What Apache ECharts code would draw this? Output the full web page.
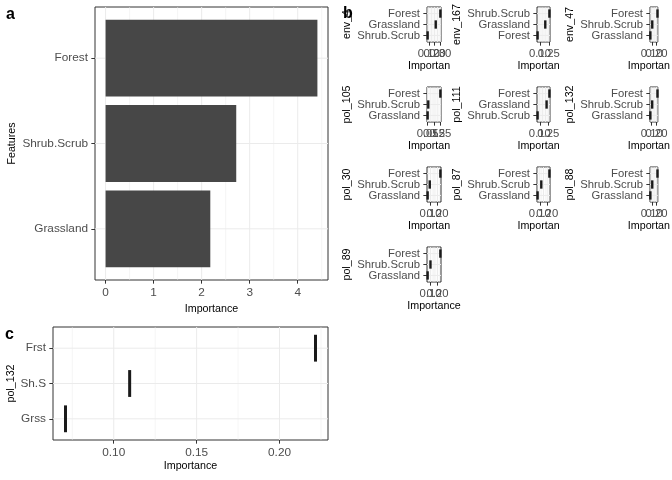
<!DOCTYPE html>
<html><head><meta charset="utf-8">
<script src="https://cdn.jsdelivr.net/npm/echarts@6/dist/echarts.min.js"></script>
<style>html,body{margin:0;padding:0;background:#fff}#c{width:672px;height:480px}</style>
</head><body><div id="c"></div>
<script>
// ---------- DATA ----------
// panel a (categories listed bottom to top)
const catsA = ['Grassland', 'Shrub.Scrub', 'Forest'];
const valsA = [2.18, 2.72, 4.41];
const ticksA = [0, 1, 2, 3, 4];

// panel b (one entry per small panel; categories bottom to top)
const bNames = ['env_4', 'env_167', 'env_47', 'pol_105', 'pol_111', 'pol_132', 'pol_30', 'pol_87', 'pol_88', 'pol_89'];
const bCats = [
  ['Shrub.Scrub', 'Grassland', 'Forest'],
  ['Forest', 'Grassland', 'Shrub.Scrub'],
  ['Grassland', 'Shrub.Scrub', 'Forest'],
  ['Grassland', 'Shrub.Scrub', 'Forest'],
  ['Shrub.Scrub', 'Grassland', 'Forest'],
  ['Grassland', 'Shrub.Scrub', 'Forest'],
  ['Grassland', 'Shrub.Scrub', 'Forest'],
  ['Grassland', 'Shrub.Scrub', 'Forest'],
  ['Grassland', 'Shrub.Scrub', 'Forest'],
  ['Grassland', 'Shrub.Scrub', 'Forest']
];
const bVals = [
  [0.08, 0.22, 0.30],
  [0.06, 0.19, 0.26],
  [0.07, 0.11, 0.22],
  [0.05, 0.06, 0.25],
  [0.06, 0.22, 0.27],
  [0.0709, 0.1096, 0.2217],
  [0.06, 0.09, 0.24],
  [0.07, 0.12, 0.23],
  [0.07, 0.11, 0.22],
  [0.06, 0.10, 0.24]
];
const bTicks = [
  [0.10, 0.15, 0.20, 0.25, 0.30],
  [0.10, 0.15, 0.20, 0.25],
  [0.10, 0.15, 0.20],
  [0.05, 0.10, 0.15, 0.20, 0.25],
  [0.10, 0.15, 0.20, 0.25],
  [0.10, 0.15, 0.20],
  [0.10, 0.15, 0.20],
  [0.10, 0.15, 0.20],
  [0.10, 0.15, 0.20],
  [0.10, 0.15, 0.20]
];

// panel c
const catsC = ['Grss', 'Sh.S', 'Frst'];
const valsC = [0.0709, 0.1096, 0.2217];
const ticksC = [0.10, 0.15, 0.20];

// ---------- LAYOUT / STYLE ----------
const FONT = '"Liberation Sans", Arial, Helvetica, sans-serif';
const TICK_COL = '#4D4D4D';
const BORDER = '#333333';
const GRIDCOL = '#EBEBEB';

const grids = [], xAxes = [], yAxes = [], series = [];

function addPanel(cfg) {
  const k = grids.length;
  grids.push({left: cfg.left, top: cfg.top, width: cfg.width, height: cfg.height,
    show: true, borderColor: BORDER, borderWidth: 1, backgroundColor: '#ffffff', containLabel: false});
  const vals = cfg.vals;
  let lo = Math.min(...vals), hi = Math.max(...vals);
  if (cfg.bars) lo = Math.min(0, lo);
  const pad = (hi - lo) * 0.05;
  const xmin = lo - pad, xmax = hi + pad;
  const ticks = cfg.ticks;
  const step = ticks[1] - ticks[0];
  const minor = ticks.map(t => t - step / 2).concat([ticks[ticks.length - 1] + step / 2])
    .filter(v => v > xmin && v < xmax);
  const xa = {gridIndex: k, type: 'value', min: xmin, max: xmax,
    axisLine: {show: false, onZero: false},
    axisTick: {show: true, customValues: ticks, length: 3.67, lineStyle: {color: BORDER, width: 1}},
    axisLabel: {customValues: ticks, formatter: v => Number(v).toFixed(cfg.dec), color: TICK_COL,
      fontSize: cfg.tickFont, fontFamily: FONT, margin: 6.5, hideOverlap: false,
      showMinLabel: true, showMaxLabel: true},
    splitLine: {show: false}, minorSplitLine: {show: false},
    name: 'Importance', nameLocation: 'middle', nameGap: cfg.xGap,
    nameTextStyle: {color: '#000', fontSize: cfg.titleFont, fontFamily: FONT,
      padding: cfg.truncate ? [0, 10, 0, 0] : 0}
  };
  if (cfg.truncate) xa.nameTruncate = {maxWidth: 44, ellipsis: ''};
  xAxes.push(xa);
  yAxes.push({gridIndex: k, type: 'value', min: 0.4, max: 3.6,
    axisLine: {show: false, onZero: false},
    axisTick: {show: true, customValues: [1, 2, 3], length: 3.67, lineStyle: {color: BORDER, width: 1}},
    axisLabel: {customValues: [1, 2, 3], formatter: v => cfg.cats[Math.round(v) - 1], color: TICK_COL,
      fontSize: cfg.tickFont, fontFamily: FONT, margin: 7, hideOverlap: false,
      showMinLabel: true, showMaxLabel: true},
    splitLine: {show: false},
    name: cfg.yName, nameLocation: 'middle', nameGap: cfg.yGap,
    nameTextStyle: {color: '#000', fontSize: cfg.titleFont, fontFamily: FONT}
  });
  // vertical grid lines (major + minor)
  const vdata = ticks.filter(t => t >= xmin && t <= xmax).map(t => [t, 2, 1]).concat(minor.map(t => [t, 2, 0.5]));
  series.push({type: 'custom', xAxisIndex: k, yAxisIndex: k, z: 1, silent: true, data: vdata,
    encode: {x: 0, y: 1},
    renderItem: (p, api) => {
      const x = api.coord([api.value(0), 2])[0];
      const cs = p.coordSys;
      return {type: 'line', shape: {x1: x, y1: cs.y, x2: x, y2: cs.y + cs.height},
        style: {stroke: GRIDCOL, lineWidth: api.value(2)}};
    }});
  // horizontal grid lines at categories
  series.push({type: 'custom', xAxisIndex: k, yAxisIndex: k, z: 1, silent: true,
    data: [[xmin, 1], [xmin, 2], [xmin, 3]], encode: {x: 0, y: 1},
    renderItem: (p, api) => {
      const y = api.coord([api.value(0), api.value(1)])[1];
      const cs = p.coordSys;
      return {type: 'line', shape: {x1: cs.x, y1: y, x2: cs.x + cs.width, y2: y},
        style: {stroke: GRIDCOL, lineWidth: 1}};
    }});
  // data marks
  const d = vals.map((v, i) => [v, i + 1]);
  if (cfg.bars) {
    series.push({type: 'custom', xAxisIndex: k, yAxisIndex: k, z: 2, silent: true, data: d, encode: {x: 0, y: 1},
      renderItem: (p, api) => {
        const v = api.value(0), c = api.value(1);
        const p0 = api.coord([0, c + 0.45]);
        const p1 = api.coord([v, c - 0.45]);
        return {type: 'rect', shape: {x: p0[0], y: p0[1], width: p1[0] - p0[0], height: p1[1] - p0[1]},
          style: {fill: '#474747'}};
      }});
  } else {
    series.push({type: 'custom', xAxisIndex: k, yAxisIndex: k, z: 2, silent: true, data: d, encode: {x: 0, y: 1},
      renderItem: (p, api) => {
        const v = api.value(0), c = api.value(1);
        const a = api.coord([v, c - 0.38]);
        const b = api.coord([v, c + 0.38]);
        return {type: 'line', shape: {x1: a[0], y1: a[1], x2: b[0], y2: b[1]},
          style: {stroke: '#1A1A1A', lineWidth: cfg.segWidth}};
      }});
  }
}

// panel a
addPanel({left: 95, top: 7, width: 233, height: 273, vals: valsA, cats: catsA, ticks: ticksA, bars: true,
  dec: 0, tickFont: 11.8, titleFont: 10.7, xGap: 20, yName: 'Features', yGap: 77});

// panel b
const colLeft = [427, 537, 650], colWidth = [14, 13, 13];
const rowTop = [7, 87, 167, 247];
bNames.forEach((nm, i) => {
  const r = Math.floor(i / 3), c = i % 3;
  addPanel({left: colLeft[c], top: rowTop[r], width: colWidth[c], height: 35, vals: bVals[i], cats: bCats[i],
    ticks: bTicks[i], bars: false, segWidth: 2.4, dec: 2, tickFont: 11.3, titleFont: 10.7, xGap: 19,
    yName: nm, yGap: 74, truncate: i < 9});
});

// panel c
addPanel({left: 53, top: 327, width: 275, height: 113, vals: valsC, cats: catsC, ticks: ticksC, bars: false,
  segWidth: 3, dec: 2, tickFont: 11.8, titleFont: 10.7, xGap: 21, yName: 'pol_132', yGap: 36});

const chart = echarts.init(document.getElementById('c'), null, {renderer: 'canvas', width: 672, height: 480});
chart.setOption({
  animation: false,
  backgroundColor: '#ffffff',
  grid: grids, xAxis: xAxes, yAxis: yAxes, series: series,
  graphic: [
    {type: 'text', left: 6, top: 7, style: {text: 'a', font: 'bold 16px ' + FONT, fill: '#000'}},
    {type: 'text', left: 343, top: 6, style: {text: 'b', font: 'bold 16px ' + FONT, fill: '#000'}},
    {type: 'text', left: 5, top: 327, style: {text: 'c', font: 'bold 16px ' + FONT, fill: '#000'}}
  ]
});
</script></body></html>
